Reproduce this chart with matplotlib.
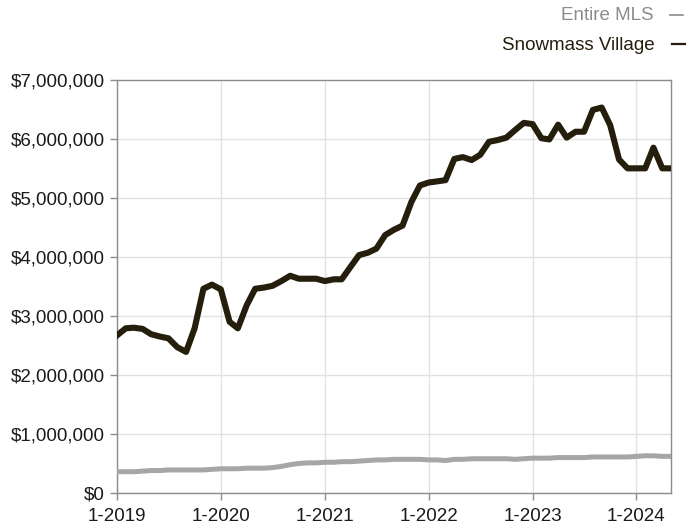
import matplotlib
matplotlib.use("Agg")
import matplotlib.pyplot as plt
from matplotlib.lines import Line2D
from matplotlib.ticker import FuncFormatter
import pandas as pd

# monthly rolling 12-month values, 1-2019 .. 5-2024
months = pd.date_range("2019-01-01", periods=65, freq="MS")

snowmass = [2.67, 2.79, 2.80, 2.78, 2.69, 2.65, 2.62, 2.47, 2.39, 2.79,
            3.46, 3.53, 3.45, 2.90, 2.79, 3.18, 3.46, 3.48, 3.51, 3.59,
            3.68, 3.63, 3.63, 3.63, 3.59, 3.62, 3.62, 3.83, 4.03, 4.07,
            4.14, 4.37, 4.46, 4.53, 4.93, 5.21, 5.26, 5.28, 5.30, 5.66,
            5.69, 5.64, 5.73, 5.95, 5.98, 6.02, 6.15, 6.27, 6.25, 6.01,
            5.99, 6.24, 6.02, 6.12, 6.12, 6.49, 6.53, 6.23, 5.65, 5.50,
            5.50, 5.50, 5.85, 5.50, 5.50]
entire_mls = [0.36, 0.36, 0.36, 0.37, 0.38, 0.38, 0.39, 0.39, 0.39, 0.39,
              0.39, 0.40, 0.41, 0.41, 0.41, 0.42, 0.42, 0.42, 0.43, 0.45,
              0.48, 0.50, 0.51, 0.51, 0.52, 0.52, 0.53, 0.53, 0.54, 0.55,
              0.56, 0.56, 0.57, 0.57, 0.57, 0.57, 0.56, 0.56, 0.55, 0.57,
              0.57, 0.58, 0.58, 0.58, 0.58, 0.58, 0.57, 0.58, 0.59, 0.59,
              0.59, 0.60, 0.60, 0.60, 0.60, 0.61, 0.61, 0.61, 0.61, 0.61,
              0.62, 0.63, 0.63, 0.62, 0.62]
year_ticks = pd.date_range("2019-01-01", "2024-01-01", freq="YS")
year_labels = ["1-2019", "1-2020", "1-2021", "1-2022", "1-2023", "1-2024"]

plt.rcParams["font.family"] = ["Liberation Sans", "DejaVu Sans"]
plt.rcParams["font.size"] = 13.5

dark = "#261e0c"
gray = "#a6a6a6"

fig = plt.figure(figsize=(6.88, 5.25), dpi=100)
ax = fig.add_axes([0.170, 0.061, 0.805, 0.787])

ax.plot(months, [v * 1e6 for v in entire_mls], color=gray, lw=3.6,
        solid_joinstyle="round", zorder=3)
ax.plot(months, [v * 1e6 for v in snowmass], color=dark, lw=4.4,
        solid_joinstyle="round", zorder=4)

ax.set_xlim(months[0], months[-1])
ax.set_ylim(0, 7e6)
ax.set_yticks([i * 1e6 for i in range(8)])
ax.yaxis.set_major_formatter(FuncFormatter(lambda v, p: "${:,.0f}".format(v)))
ax.set_xticks(year_ticks)
ax.set_xticklabels(year_labels)

ax.grid(True, color="#e2e2e2", lw=1.0, zorder=0)
for s in ax.spines.values():
    s.set_color("#8c8c8c")
    s.set_linewidth(1.0)
ax.tick_params(axis="both", colors="#8c8c8c", length=5, width=1.0,
               labelcolor="#1a1a1a")
ax.tick_params(axis="x", pad=6)
ax.tick_params(axis="y", pad=4)

# legend at top right
fig.text(654 / 688, 1 - 16 / 525, "Entire MLS", ha="right", va="center",
         color="#8c8c8c", fontsize=13.5)
fig.text(655 / 688, 1 - 45 / 525, "Snowmass Village", ha="right", va="center",
         color=dark, fontsize=13.5)
fig.add_artist(Line2D([670 / 688, 683 / 688], [1 - 15 / 525, 1 - 15 / 525],
                      color="#8c8c8c", lw=1.2, transform=fig.transFigure))
fig.add_artist(Line2D([672 / 688, 685 / 688], [1 - 44 / 525, 1 - 44 / 525],
                      color=dark, lw=1.6, transform=fig.transFigure))

fig.savefig("out.png", dpi=100)
